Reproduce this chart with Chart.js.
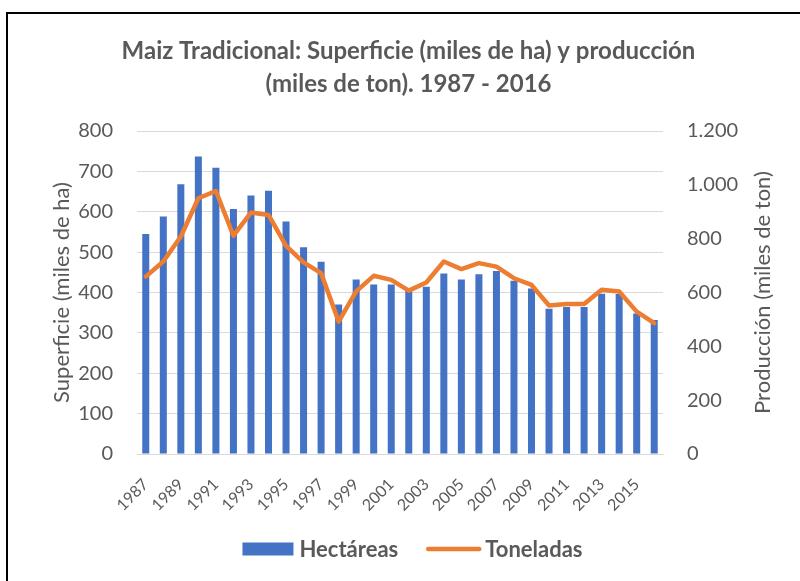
<!DOCTYPE html>
<html><head><meta charset="utf-8">
<script src="https://cdn.jsdelivr.net/npm/chart.js@4/dist/chart.umd.min.js"></script>
<style>html,body{margin:0;padding:0;background:#fff}#wrap{width:800px;height:581px;position:relative}</style>
</head><body><div id="wrap"><canvas id="c" width="800" height="581"></canvas></div>
<script>
const years = ['1987','1988','1989','1990','1991','1992','1993','1994','1995','1996','1997','1998','1999','2000','2001','2002','2003','2004','2005','2006','2007','2008','2009','2010','2011','2012','2013','2014','2015','2016'];
const hectareas = [545, 588, 668, 737, 709, 607, 640, 652, 576, 512, 476, 370, 432, 420, 420, 405, 414, 447, 432, 445, 453, 429, 410, 360, 364, 364, 397, 396, 348, 332];
const toneladas = [659, 715, 808, 950, 977, 811, 897, 888, 773, 712, 672, 492, 604, 662, 647, 607, 637, 715, 687, 709, 696, 653, 628, 552, 557, 557, 610, 604, 529, 486];
const seriesNames = ['Hectáreas', 'Toneladas'];
const chartTitle = ['Maiz Tradicional: Superficie (miles de ha) y producción', '(miles de ton). 1987 - 2016'];
const leftTitle = 'Superficie (miles de ha)';
const rightTitle = 'Producción (miles de ton)';

const GRAY = '#595959';
const BLUE = '#4472C4';
const ORANGE = '#ED7D31';
const GRID = '#D9D9D9';
const FONT = 'Lato';

function fmtEs(v){ return String(v).replace(/\B(?=(\d{3})+(?!\d))/g, '.'); }

const framePlugin = {
  id: 'frame',
  beforeDraw(chart){
    const ctx = chart.ctx;
    ctx.save();
    ctx.fillStyle = '#fff';
    ctx.fillRect(0,0,chart.width,chart.height);
    ctx.strokeStyle = '#000';
    ctx.lineWidth = 2;
    ctx.beginPath();
    ctx.moveTo(7, chart.height);
    ctx.lineTo(7, 13);
    ctx.lineTo(chart.width, 13);
    ctx.stroke();
    ctx.restore();
  },
  afterDraw(chart){
    const ctx = chart.ctx;
    const ca = chart.chartArea;
    const s = chart.scales.y1;
    // right axis title, reading bottom-to-top
    ctx.save();
    ctx.translate(s.right - 37, (ca.top + ca.bottom) / 2);
    ctx.rotate(-Math.PI / 2);
    ctx.font = '22px ' + FONT;
    ctx.fillStyle = GRAY;
    ctx.textAlign = 'center';
    ctx.textBaseline = 'middle';
    ctx.fillText(rightTitle, 0, 0);
    ctx.restore();

    // legend
    const ds = chart.data.datasets;
    ctx.save();
    ctx.font = 'bold 22px ' + FONT;
    ctx.textBaseline = 'middle';
    ctx.textAlign = 'left';
    const symW = [51, 55], gapText = [6, 4], gapItem = 28;
    const tw = ds.map(d => ctx.measureText(d.label).width);
    const total = symW[0] + gapText[0] + tw[0] + gapItem + symW[1] + gapText[1] + tw[1];
    let x = 412.5 - total / 2;
    const y = 549;
    ds.forEach((d, i) => {
      if (d.type === 'bar') {
        ctx.fillStyle = d.backgroundColor;
        ctx.fillRect(x, y - 6.5, symW[i], 13);
      } else {
        ctx.strokeStyle = d.borderColor;
        ctx.lineWidth = 4.5;
        ctx.lineCap = 'round';
        ctx.beginPath();
        ctx.moveTo(x + 2, y);
        ctx.lineTo(x + symW[i] - 2, y);
        ctx.stroke();
      }
      x += symW[i] + gapText[i];
      ctx.fillStyle = GRAY;
      ctx.fillText(d.label, x, y + 1);
      x += tw[i] + gapItem;
    });
    ctx.restore();
  }
};

new Chart(document.getElementById('c'), {
  data: {
    labels: years,
    datasets: [
      { type: 'bar', label: seriesNames[0], data: hectareas, backgroundColor: BLUE, yAxisID: 'y', order: 1,
        barPercentage: 0.4, categoryPercentage: 1.0 },
      { type: 'line', label: seriesNames[1], data: toneladas, borderColor: ORANGE, backgroundColor: ORANGE, yAxisID: 'y1', order: 0,
        borderWidth: 4.5, pointRadius: 0, tension: 0, borderJoinStyle: 'round', borderCapStyle: 'round' }
    ]
  },
  options: {
    responsive: false,
    devicePixelRatio: 1,
    animation: false,
    layout: { padding: { left: 17, right: 0, top: 0, bottom: 50 } },
    plugins: {
      title: {
        display: true, text: chartTitle, color: GRAY,
        font: { family: FONT, size: 24, weight: 'bold', lineHeight: 1.375 },
        padding: { top: 35, bottom: 30 }
      },
      legend: { display: false },
      tooltip: { enabled: false }
    },
    scales: {
      x: {
        offset: true,
        grid: { display: false, drawTicks: false },
        border: { display: true, color: GRID, width: 1 },
        ticks: {
          color: GRAY, font: { family: FONT, size: 16 },
          autoSkip: false, minRotation: 45, maxRotation: 45, padding: 21,
          callback(v, i){ return i % 2 === 0 ? this.getLabelForValue(v) : ''; }
        },
        afterFit(s){ s.height = 77; }
      },
      y: {
        position: 'left', min: 0, max: 800,
        grid: { color: GRID, lineWidth: 1, drawTicks: false },
        border: { display: false },
        ticks: { stepSize: 100, color: GRAY, font: { family: FONT, size: 20 }, padding: 24 },
        title: { display: true, text: leftTitle, color: GRAY, font: { family: FONT, size: 22 }, padding: { top: 31.8, bottom: 0 } },
        afterFit(s){ s.width = 120; }
      },
      y1: {
        position: 'right', min: 0, max: 1200,
        grid: { drawOnChartArea: false, drawTicks: false },
        border: { display: false },
        ticks: { stepSize: 200, color: GRAY, font: { family: FONT, size: 20 }, padding: 24, callback(v){ return fmtEs(v); } },
        afterFit(s){ s.width = 137; }
      }
    }
  },
  plugins: [framePlugin]
});
</script></body></html>
